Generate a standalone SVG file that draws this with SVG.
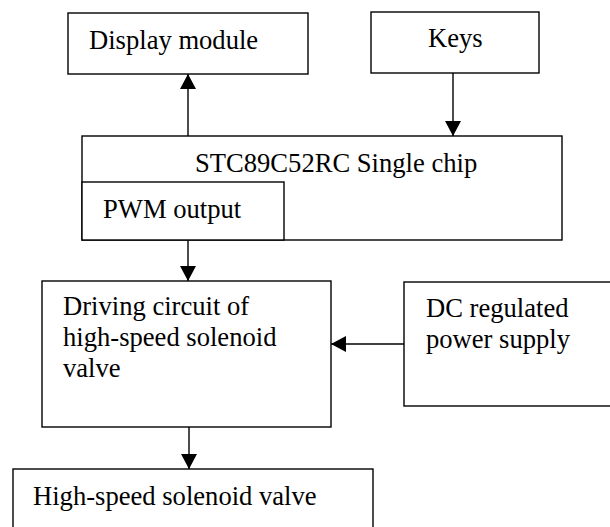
<svg xmlns="http://www.w3.org/2000/svg" width="610" height="527" viewBox="0 0 610 527">
<style>
.box{fill:#fff;stroke:#000;stroke-width:1.4}
.t{font-family:"Liberation Serif","Times New Roman",serif;font-size:26.6px;fill:#000}
.c{stroke:#000;stroke-width:1.4;fill:none;marker-end:url(#ah)}
</style>
<defs>
<marker id="ah" markerUnits="userSpaceOnUse" markerWidth="16" markerHeight="16" refX="15" refY="8" orient="auto" overflow="visible">
<path d="M0,0 L15,8 L0,16 Z" fill="#000"/>
</marker>
</defs>
<rect width="610" height="527" fill="#fff"/>
<g id="display">
<rect class="box" x="68" y="13" width="240" height="61"/>
<text class="t" x="89" y="49">Display module</text>
</g>
<g id="keys">
<rect class="box" x="371" y="12" width="168" height="61"/>
<text class="t" x="428" y="47">Keys</text>
</g>
<g id="chip">
<rect class="box" x="82" y="136" width="480" height="104"/>
<text class="t" x="195" y="172">STC89C52RC Single chip</text>
</g>
<g id="pwm">
<rect class="box" x="82" y="182" width="202" height="58"/>
<text class="t" x="103" y="218">PWM output</text>
</g>
<g id="driving">
<rect class="box" x="42" y="281" width="289" height="146"/>
<text class="t" x="63" y="315">Driving circuit of</text>
<text class="t" x="63" y="346">high-speed solenoid</text>
<text class="t" x="63" y="377">valve</text>
</g>
<g id="dc">
<rect class="box" x="404" y="282" width="210" height="124"/>
<text class="t" x="426" y="317">DC regulated</text>
<text class="t" x="426" y="348">power supply</text>
</g>
<g id="valve">
<rect class="box" x="13" y="469" width="360" height="70"/>
<text class="t" x="33" y="505">High-speed solenoid valve</text>
</g>
<g id="connectors">
<line class="c" x1="188" y1="136" x2="188" y2="74"/>
<line class="c" x1="453" y1="73" x2="453" y2="136"/>
<line class="c" x1="188" y1="240" x2="188" y2="281"/>
<line class="c" x1="404" y1="344" x2="331" y2="344"/>
<line class="c" x1="189" y1="427" x2="189" y2="469"/>
</g>
</svg>
